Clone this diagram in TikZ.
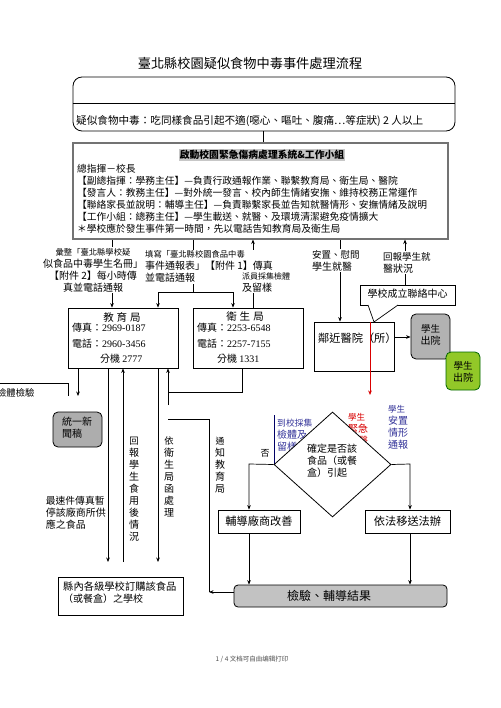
\documentclass[tikz,border=0pt]{standalone}
\usepackage{fontspec}
\setmainfont{Noto Sans CJK TC}
\newfontfamily\scfont{Noto Sans CJK SC}
\newfontfamily\latn{Liberation Serif}
\usetikzlibrary{arrows.meta,shapes.geometric}
\newcommand{\fs}[2]{\fontsize{#1}{#2}\selectfont}
\begin{document}
\begin{tikzpicture}[x=1pt,y=-1pt,
  box/.style={draw, line width=0.8pt, inner sep=0pt},
  ln/.style={line width=0.7pt},
  arr/.style={-{Stealth[length=4.5pt,width=3.6pt]}, line width=0.7pt},
  tx/.style={inner sep=0pt, anchor=west},
  lbl/.style={inner sep=1pt, fill=white, align=left},
  grayrnd/.style={draw, line width=0.8pt, rounded corners=5pt, fill=black!32, inner sep=0pt},
]
\useasboundingbox (0,0) rectangle (500,708);
\fill[white] (0,0) rectangle (500,708);

% title
\node[inner sep=0pt] (title) at (250,63) {\fs{13.2}{15}臺北縣校園疑似食物中毒事件處理流程};

% box 1
\node[box, rounded corners=9pt, minimum width=382pt, minimum height=54pt] (b1) at (264,104) {};
\draw[ln] (b1.west |- 0,103) -- (b1.east |- 0,103);
\node[tx] (b1t) at (76,121) {\fs{10.6}{12}疑似食物中毒：吃同樣食品引起不適(噁心、嘔吐、腹痛…等症狀) 2 人以上};

% box 2
\node[box, draw=black!55, line width=1.1pt, minimum width=375pt, minimum height=96pt] (b2) at (260.5,191) {};
\draw[ln] (b1.south -| 263,0) -- (b2.north -| 263,0);
\node[inner sep=1pt, fill=black!22] (b2h) at (262,155) {\fs{9.8}{12}\bfseries 啟動校園緊急傷病處理系統\&工作小組};
\node[tx] (l1) at (77,169) {\fs{9.75}{12}總指揮－校長};
\node[tx] (l2) at (77,181) {\fs{9.75}{12}【副總指揮：學務主任】—負責行政通報作業、聯繫教育局、衛生局、醫院};
\node[tx] (l3) at (77,193) {\fs{9.75}{12}【發言人：教務主任】—對外統一發言、校內師生情緒安撫、維持校務正常運作};
\node[tx] (l4) at (77,205) {\fs{9.75}{12}【聯絡家長並說明：輔導主任】—負責聯繫家長並告知就醫情形、安撫情緒及說明};
\node[tx] (l5) at (77,217) {\fs{9.75}{12}【工作小組：總務主任】—學生載送、就醫、及環境清潔避免疫情擴大};
\node[tx] (l6) at (77,229) {\fs{9.75}{12}＊學校應於發生事件第一時間，先以電話告知教育局及衛生局};

% 教育局 / 衛生局
\node[box, minimum width=110pt, minimum height=60pt] (edu) at (123,338) {};
\node[inner sep=0pt] (edut) at (122,317) {\fs{10.5}{12}教\hspace{3pt}育\hspace{3pt}局};
\node[tx] (edu1) at (72,328) {\fs{10}{12}傳真：{\latn 2969-0187}};
\node[tx] (edu2) at (72,344) {\fs{10}{12}電話：{\latn 2960-3456}};
\node[tx] (edu3) at (100,359) {\fs{10}{12}分機 {\latn 2777}};

\node[box, minimum width=110pt, minimum height=60pt] (hb) at (248,338) {};
\node[inner sep=0pt] (hbt) at (245,317) {\fs{10.5}{12}衛\hspace{3pt}生\hspace{3pt}局};
\node[tx] (hb1) at (197,328) {\fs{10}{12}傳真：{\latn 2253-6548}};
\node[tx] (hb2) at (197,344) {\fs{10}{12}電話：{\latn 2257-7155}};
\node[tx] (hb3) at (217,359) {\fs{10}{12}分機 {\latn 1331}};

% hospital, callout, discharge boxes
\node[box, minimum width=80pt, minimum height=49pt] (hosp) at (354,346.5) {};
\node[tx] (hospt) at (318,338) {\fs{11.2}{13}鄰近醫院（所）};
\node[box, minimum width=95pt, minimum height=20pt] (call) at (407.5,295) {};
\node[inner sep=0pt] (callt) at (407.5,294) {\fs{10}{12}學校成立聯絡中心};
\coordinate (tip) at (374,322);
\draw[ln, fill=white] (368,305) -- (tip) -- (398,305);
\node[grayrnd, fill=black!30, minimum width=39pt, minimum height=45pt] (out1) at (430.5,336.5) {};
\node[align=center, inner sep=0pt] (out1t) at (430.5,334.5) {\fs{9.5}{15}學生\\出院};
\node[draw=black!60!green, line width=0.8pt, rounded corners=5pt, fill={rgb,255:red,146;green,200;blue,40}, minimum width=34pt, minimum height=38pt, inner sep=0pt] (out2) at (463,371) {};
\node[align=center, inner sep=0pt] (out2t) at (463,371.5) {\fs{9.5}{13}學生\\出院};
\draw[arr] (hosp.east |- 0,337) -- (out1.west |- 0,337);

% connectors below box 2
\draw[arr] (b2.south -| 112,0) -- (edu.north -| 112,0);
\coordinate (brk) at (193,292);
\draw[ln] (b2.south -| 193,0) -- (brk);
\draw[ln] (158,292) -- (233,292);
\draw[arr] (158,292) -- (edu.north -| 158,0);
\draw[arr] (233,292) -- (hb.north -| 233,0);
\draw[arr] (hb.north -| 253,0) -- (b2.south -| 253,0);
\draw[arr] (b2.south -| 340,0) -- (hosp.north -| 340,0);
\draw[arr] (call.north -| 405,0) -- (b2.south -| 405,0);

\node[lbl, align=center, anchor=center] (t1) at (93,270) {\fs{8.3}{10}彙整「臺北縣學校疑\\似食品中毒學生名冊」\\【附件 2】每小時傳\\真並電話通報};
\node[lbl, anchor=north west] (t2) at (144,249.5) {\fs{8.3}{10.8}填寫「臺北縣校園食品中毒\\事件通報表」【附件 1】傳真\\並電話通報};
\node[lbl, anchor=north west] (t3) at (241,271.5) {\fs{8}{10}派員採集檢體\\及留樣};
\node[lbl, anchor=north west] (t4) at (311,249) {\fs{9.5}{10.5}安置、慰問\\學生就醫};
\node[lbl, anchor=north west] (t5) at (382,251) {\fs{9.5}{10.5}回報學生就\\醫狀況};

% red arrow
\draw[-{Stealth[length=4.5pt,width=3.6pt]}, line width=0.7pt, red!85!black] (hosp.north -| 370,0) -- (370,395);

% labels near diamond
\draw[line width=0.7pt, blue!40!black] (274,415) -- (274,464);
\node[inner sep=0pt, anchor=north west, align=left, text={rgb,255:red,51;green,51;blue,153}] (bl) at (277,419) {\fs{8.8}{14}到校採集\\檢體及\\留樣};
\node[inner sep=0pt, anchor=north west, align=left, text=red!85!black] (rl) at (348,413) {\fs{8.5}{12}學生\\緊急\\送醫};
\node[inner sep=0pt, anchor=north west, align=left, text={rgb,255:red,51;green,51;blue,153}] (brl) at (388,405) {\fs{8.5}{13.3}學生\\安置\\情形\\通報};
\node[inner sep=0pt] (no) at (265,453) {\fs{9}{11}否};

% diamond
\node[diamond, draw, line width=0.8pt, fill=white, minimum width=117pt, minimum height=105pt, inner sep=0pt] (dm) at (332.5,464.5) {};
\node[inner sep=0pt, anchor=north west, align=left] (dmt) at (307,443.5) {\fs{10}{17}確定是否該\\食品（或餐\\盒）引起};

\node[box, minimum width=82pt, minimum height=23pt] (fd) at (259,521.5) {};
\node[inner sep=0pt] (fdt) at (259,521.5) {\fs{11.2}{13}輔導廠商改善};
\node[box, minimum width=85pt, minimum height=23pt] (yf) at (407.5,521.5) {};
\node[inner sep=0pt] (yft) at (407.5,521.5) {\fs{11.2}{13}依法移送法辦};
\draw[arr] (dm.west) -- (249,464) -- (fd.north -| 249,0);
\draw[arr] (dm.east) -- (410,464) -- (yf.north -| 410,0);

\node[grayrnd, fill=black!24, rounded corners=4pt, minimum width=213pt, minimum height=22pt] (res) at (340.5,596) {};
\node[inner sep=0pt] (rest) at (329,596) {\fs{12}{14}檢驗、輔導結果};
\draw[arr] (fd.south -| 249,0) -- (res.north -| 249,0);
\draw[arr] (yf.south -| 410,0) -- (res.north -| 410,0);

% left side
\node[box, minimum width=125pt, minimum height=38pt] (cty) at (120.5,596) {};
\node[inner sep=0pt, anchor=north west, align=left] (ctyt) at (63,582) {\fs{10.3}{13}縣內各級學校訂購該食品\\（或餐盒）之學校};
\node[grayrnd, fill=black!32, minimum width=49pt, minimum height=35pt] (news) at (77.5,429.5) {};
\node[inner sep=0pt, anchor=north west, align=left] (newst) at (62,416.5) {\fs{10}{14}統一新\\聞稿};
\draw[ln] (-5,383) -- (68,383) -- (68,396);
\node[tx] (chk) at (-3,393) {\fs{9.3}{11}檢體檢驗};

\draw[arr] (edu.south -| 78,0) -- (78,396);
\draw[arr] (edu.south -| 108,0) -- (108,562);
\draw[arr] (123,562) -- (edu.south -| 123,0);
\draw[arr] (edu.south -| 158,0) -- (158,562);
\draw[arr] (168,405) -- (edu.south -| 168,0);
\draw[ln] (hb.south -| 242,0) -- (242,392) -- (168,392);
\coordinate (j1) at (209,592);
\draw[ln] (168,419) -- (209,419) -- (j1);
\draw[arr] (res.west |- 0,592) -- (j1);

\node[inner sep=0pt, anchor=north east, align=left] (fast) at (106,496) {\fs{9.8}{11}最速件傳真暫\\停該廠商所供\\應之食品};
\node[inner sep=0pt, anchor=north, align=center] (v1) at (134,436.5) {\fs{9.3}{11.5}回\\報\\學\\生\\食\\用\\後\\情\\況};
\node[inner sep=0pt, anchor=north, align=center] (v2) at (169,436.5) {\fs{9.3}{11.3}依\\衛\\生\\局\\函\\處\\理};
\node[inner sep=0pt, anchor=north, align=center] (v3) at (220,437) {\fs{8.8}{10.2}通\\知\\教\\育\\局};

% footer
\node[inner sep=0pt, text=black!70] (foot) at (252,659) {\scfont\fs{6.5}{8}1 / 4 文档可自由编辑打印};
\end{tikzpicture}
\end{document}
